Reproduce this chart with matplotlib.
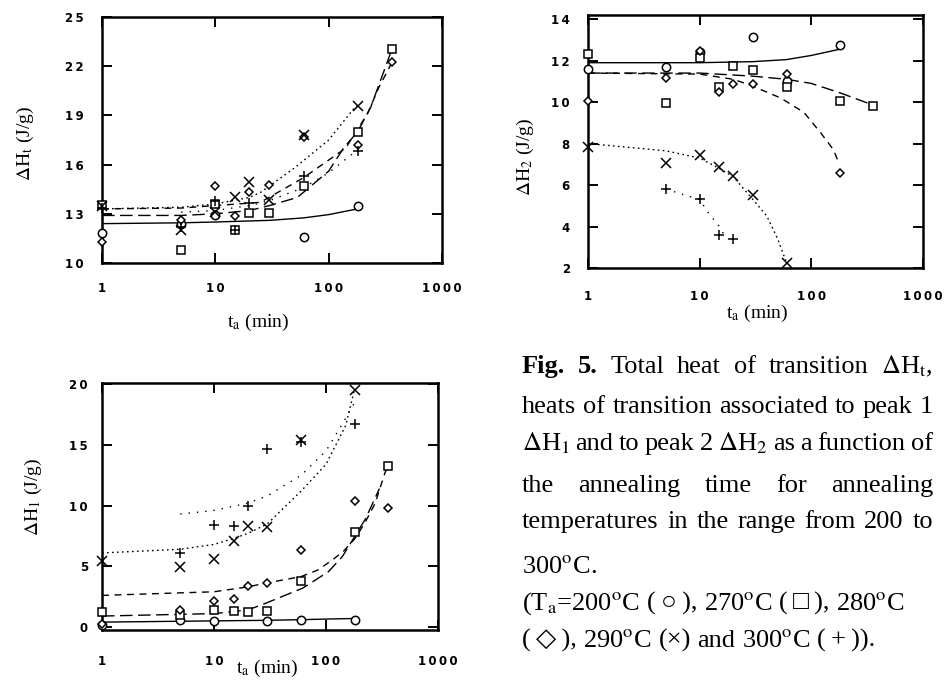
import numpy as np
import matplotlib
matplotlib.use("Agg")
import matplotlib.pyplot as plt
from matplotlib.ticker import FixedLocator, NullLocator, FuncFormatter

plt.rcParams['font.family'] = ['Liberation Serif', 'DejaVu Sans']
plt.rcParams['mathtext.fontset'] = 'stix'

W, H = 946, 680
nan = np.nan

# annealing times (min)
t_a = [1, 5, 10, 15, 20, 30, 60, 180, 360]

# total heat of transition dHt (J/g), one list per annealing temperature
ht_200 = [11.8, 12.4, 12.9, nan, nan, nan, 11.6, 13.5, nan]
ht_270 = [13.55, 10.8, 13.6, 12.0, 13.05, 13.05, 14.7, 18.0, 23.05]
ht_280 = [11.3, 12.6, 14.7, 12.85, 14.35, 14.75, 17.7, 17.2, 22.25]
ht_290 = [13.45, 12.0, 13.1, 14.05, 14.95, 13.85, 17.8, 19.55, nan]
ht_300 = [13.35, 12.2, 13.75, 12.0, 13.65, nan, 15.3, 16.8, nan]

# peak 2 heat dH2 (J/g)
h2_200 = [11.6, 11.7, 12.4, nan, nan, 13.15, 11.0, 12.75, nan]
h2_270 = [12.3, 9.95, 12.15, 10.75, 11.75, 11.55, 10.75, 10.05, 9.8]
h2_280 = [10.05, 11.15, 12.45, 10.5, 10.85, 10.85, 11.35, 6.6, nan]
h2_290 = [7.85, 7.05, 7.45, 6.85, 6.45, 5.5, 2.25, nan, nan]
h2_300 = [nan, 5.8, 5.35, 3.6, 3.4, nan, nan, nan, nan]

# peak 1 heat dH1 (J/g)
h1_200 = [0.15, 0.6, 0.5, nan, nan, 0.5, 0.55, 0.55, nan]
h1_270 = [1.2, 1.0, 1.4, 1.3, 1.2, 1.35, 3.8, 7.8, 13.3]
h1_280 = [0.25, 1.4, 2.1, 2.3, 3.4, 3.6, 6.3, 10.4, 9.8]
h1_290 = [5.4, 4.9, 5.6, 7.1, 8.35, 8.25, 15.4, 19.5, nan]
h1_300 = [nan, 6.1, 8.4, 8.3, 10.0, 14.7, 15.2, 16.7, nan]

# fitted trend curves (time knots, values)
ht_fit_200 = ([1, 5, 10, 30, 60, 100, 180], [12.4, 12.45, 12.5, 12.6, 12.75, 12.95, 13.3])
ht_fit_270 = ([1, 5, 10, 20, 30, 53, 100, 135, 180, 235, 360],
              [12.9, 12.9, 13.0, 13.2, 13.5, 14.0, 15.6, 17.0, 18.0, 19.5, 23.0])
ht_fit_280 = ([1, 5, 10, 25, 60, 141, 220, 277, 360],
              [13.3, 13.35, 13.5, 13.7, 15.2, 17.0, 19.1, 20.7, 22.2])
ht_fit_290 = ([1, 5, 10, 20, 25, 50, 100, 166, 180],
              [13.3, 13.4, 13.6, 14.0, 14.3, 15.8, 17.5, 19.4, 19.6])
ht_fit_300 = ([5, 10, 20, 30, 60, 100, 180], [13.1, 13.2, 13.5, 13.8, 14.6, 15.5, 16.9])

h2_fit_200 = ([1, 10, 30, 60, 100, 180], [11.9, 11.9, 11.95, 12.05, 12.25, 12.55])
h2_fit_270 = ([1, 10, 30, 60, 100, 180, 360], [11.4, 11.4, 11.25, 11.1, 10.9, 10.45, 9.85])
h2_fit_280 = ([1, 10, 20, 29, 53, 86, 122, 158, 178],
              [11.4, 11.35, 11.1, 10.8, 10.2, 9.5, 8.5, 7.7, 7.0])
h2_fit_290 = ([1, 5, 10, 15, 20, 30, 40, 50, 60], [8.0, 7.65, 7.3, 6.8, 6.4, 5.3, 4.5, 3.4, 2.25])
h2_fit_300 = ([5, 10, 12, 15, 17], [5.8, 5.3, 4.65, 4.0, 3.5])

h1_fit_200 = ([1, 10, 30, 60, 100, 180], [0.4, 0.5, 0.55, 0.6, 0.65, 0.7])
h1_fit_270 = ([1, 10, 20, 28, 62, 105, 140, 225, 300],
              [0.9, 1.1, 1.4, 1.9, 3.2, 4.55, 5.8, 8.9, 11.4])
h1_fit_280 = ([1, 10, 20, 28.5, 60, 85, 113, 142, 182, 223, 275, 336, 360],
              [2.6, 2.9, 3.3, 3.6, 4.15, 4.7, 5.5, 6.2, 7.3, 8.6, 10.2, 12.7, 13.3])
h1_fit_290 = ([1, 5, 10, 15, 20, 30, 60, 100, 150, 180],
              [6.1, 6.4, 6.8, 7.3, 7.7, 8.5, 11.2, 13.4, 16.6, 19.6])
h1_fit_300 = ([5, 10, 20, 30, 60, 100, 150, 180], [9.3, 9.6, 10.2, 10.8, 12.5, 14.5, 17.2, 18.5])

markers = ['o', 's', 'D', 'x', '+']
msizes = [6, 6, 4.5, 6.5, 7]
lstyles = ['-', (0, (9, 4)), (0, (5, 4)), (0, (1.2, 2.4)), (0, (1, 5))]


def px_rect(left, top, right, bottom):
    return [left / W, 1 - bottom / H, (right - left) / W, (bottom - top) / H]


def spaced(v, pos):
    return '\u2009'.join(f'{v:g}')


def setup(ax, ylim, yticks, xpad, ypad):
    ax.set_xscale('log')
    ax.set_xlim(1, 1000)
    ax.set_ylim(*ylim)
    ax.xaxis.set_major_locator(FixedLocator([1, 10, 100, 1000]))
    ax.xaxis.set_minor_locator(NullLocator())
    ax.xaxis.set_major_formatter(FuncFormatter(spaced))
    ax.yaxis.set_major_locator(FixedLocator(yticks))
    ax.yaxis.set_major_formatter(FuncFormatter(spaced))
    ax.tick_params(direction='in', length=7, width=1.4, top=True, right=True,
                   labelsize=8.5)
    ax.tick_params(axis='x', pad=xpad)
    ax.tick_params(axis='y', pad=ypad)
    for lab in ax.get_xticklabels() + ax.get_yticklabels():
        lab.set_fontfamily('DejaVu Sans')
        lab.set_fontweight('bold')
    for s in ax.spines.values():
        s.set_linewidth(1.8)


def draw(ax, points, fits):
    for vals, fit, m, ms, ls in zip(points, fits, markers, msizes, lstyles):
        ax.plot(fit[0], fit[1], color='black', lw=1.0, linestyle=ls, zorder=2)
        ax.plot(t_a, vals, linestyle='none', marker=m, ms=ms, mew=1.1,
                mec='black', mfc='white', color='black', zorder=3, clip_on=False)


fig = plt.figure(figsize=(W / 100, H / 100), dpi=100)

ax_t = fig.add_axes(px_rect(102, 17, 442, 263))
setup(ax_t, (10, 25), [10, 13, 16, 19, 22, 25], 14, 13)
draw(ax_t, [ht_200, ht_270, ht_280, ht_290, ht_300],
     [ht_fit_200, ht_fit_270, ht_fit_280, ht_fit_290, ht_fit_300])

ax_2 = fig.add_axes(px_rect(588, 15, 923, 268))
setup(ax_2, (2, 14.2), [2, 4, 6, 8, 10, 12, 14], 16, 13)
draw(ax_2, [h2_200, h2_270, h2_280, h2_290, h2_300],
     [h2_fit_200, h2_fit_270, h2_fit_280, h2_fit_290, h2_fit_300])

ax_1 = fig.add_axes(px_rect(102, 383, 438, 630))
setup(ax_1, (-0.25, 20.1), [0, 5, 10, 15, 20], 18, 10)
draw(ax_1, [h1_200, h1_270, h1_280, h1_290, h1_300],
     [h1_fit_200, h1_fit_270, h1_fit_280, h1_fit_290, h1_fit_300])

# axis titles
lab_kw = dict(fontsize=14, ha='center', va='center')
fig.text(258 / W, 1 - 322 / H, r't$_\mathrm{a}$ (min)', **lab_kw)
fig.text(757 / W, 1 - 313 / H, r't$_\mathrm{a}$ (min)', **lab_kw)
fig.text(267 / W, 1 - 668 / H, r't$_\mathrm{a}$ (min)', **lab_kw)
fig.text(25 / W, 1 - 143 / H, r'$\Delta$H$_\mathrm{t}$ (J/g)', rotation=90, **lab_kw)
fig.text(525 / W, 1 - 157 / H, r'$\Delta$H$_2$ (J/g)', rotation=90, **lab_kw)
fig.text(33 / W, 1 - 497 / H, r'$\Delta$H$_1$ (J/g)', rotation=90, **lab_kw)

# caption, first five lines justified
cap_size = 19
deg = r'$^\mathrm{o}$C'
renderer = fig.canvas.get_renderer()


def caption_line(words, base, x0=522, x1=None):
    texts = []
    for w in words:
        txt, wt = (w, 'normal') if isinstance(w, str) else w
        texts.append(fig.text(0, 1 - base / H, txt, fontsize=cap_size,
                              fontweight=wt, va='baseline', ha='left'))
    widths = [t.get_window_extent(renderer).width for t in texts]
    if x1 is None or len(texts) < 2:
        gap = cap_size * 0.25 * 100 / 72
    else:
        gap = (x1 - x0 - sum(widths)) / (len(texts) - 1)
    x = x0
    for t, w in zip(texts, widths):
        t.set_x(x / W)
        x += w + gap


caption_line([('Fig.', 'bold'), ('5.', 'bold'), 'Total', 'heat', 'of', 'transition',
              r'$\Delta$H$_\mathrm{t}$,'], 373, x1=933)
caption_line('heats of transition associated to peak 1'.split(), 413, x1=933)
caption_line([r'$\Delta$H$_1$', 'and', 'to', 'peak', '2', r'$\Delta$H$_2$', 'as', 'a',
              'function', 'of'], 450, x1=933)
caption_line('the annealing time for annealing'.split(), 492, x1=933)
caption_line('temperatures in the range from 200 to'.split(), 528, x1=933)
caption_line(['300' + deg + '.'], 573)
caption_line(['(T$_\\mathrm{a}$=200' + deg, '(\u2009\u25cb\u2009),', '270' + deg,
              '(\u2009\u25a1\u2009),', '280' + deg], 610)
caption_line(['(\u2009\u25c7\u2009),', '290' + deg, '(\u00d7)', 'and', '300' + deg,
              '(\u2009+\u2009)).'], 647)

fig.savefig('out.png', dpi=100)
